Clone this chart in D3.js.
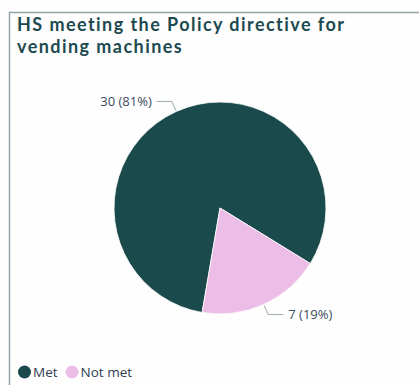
<!DOCTYPE html>
<html><head><meta charset="utf-8">
<script src="https://cdn.jsdelivr.net/npm/d3@7"></script>
<style>html,body{margin:0;padding:0;background:#fff;overflow:hidden}</style>
</head><body>
<svg id="chart" width="419" height="385"></svg>
<script>
const categories = ["Met", "Not met"];
const values = [30, 7];
const colors = ["#1a4a4b", "#ecbde7"];
const titleLines = ["HS meeting the Policy directive for", "vending machines"];

const svg = d3.select("#chart");
svg.append("rect").attr("x", 0).attr("y", 0).attr("width", 419).attr("height", 385).attr("fill", "#fefefe");
// frame
svg.append("path").attr("d", "M9.5,400 V12.5 H430").attr("fill", "none").attr("stroke", "#8fa5a7").attr("stroke-width", 1.5);

const font = "'Open Sans', 'Noto Sans', sans-serif";
const tfont = "Lato, 'Open Sans', sans-serif";
const tg = svg.append("g");
const tnodes = titleLines.map((t, i) => tg.append("text").attr("x", 17).attr("y", 31 + i * 22).text(t)
  .attr("font-family", tfont).attr("font-weight", 700)
  .attr("font-size", 18).attr("fill", "#1c4a50"));
// widen first line to the reference width with letter spacing
const w0 = tnodes[0].node().getComputedTextLength();
const ls = Math.max(0, Math.min(1.5, (329 - w0) / titleLines[0].length));
tnodes.forEach(t => t.attr("letter-spacing", ls));

const total = d3.sum(values);
const cx = 220, cy = 208, r = 106;
const start = 189.7 * Math.PI / 180;
const pie = d3.pie().sort(null).startAngle(start).endAngle(start + 2 * Math.PI);
const arcs = pie(values);
const arc = d3.arc().innerRadius(0).outerRadius(r);
const g = svg.append("g").attr("transform", `translate(${cx},${cy})`);
g.selectAll("path.slice").data(arcs).join("path").attr("class", "slice")
  .attr("d", arc).attr("fill", (d, i) => colors[i]).attr("stroke", "#fff").attr("stroke-width", 0.8);

// labels with connectors
arcs.forEach((d, i) => {
  const mid = (d.startAngle + d.endAngle) / 2;
  const sx = Math.sin(mid), sy = -Math.cos(mid);
  const p0 = [sx * (r + 1), sy * (r + 1)];
  const p1 = [sx * (r + 11), sy * (r + 11)];
  const right = sx > 0;
  const p2 = [p1[0] + (right ? 15 : -15), p1[1]];
  g.append("path").attr("d", d3.line()([p0, p1, p2])).attr("fill", "none")
    .attr("stroke", "#9aacae").attr("stroke-width", 1);
  const pct = Math.round(values[i] / total * 100);
  g.append("text").attr("x", p2[0] + (right ? 5 : -5)).attr("y", p2[1] + 4.5)
    .attr("text-anchor", right ? "start" : "end")
    .attr("font-family", font).attr("font-size", 13)
    .attr("fill", "#3b4a5e").text(`${values[i]} (${pct}%)`);
});

// legend
const lg = svg.append("g");
let lx = 18;
categories.forEach((c, i) => {
  lg.append("circle").attr("cx", lx + 6.5).attr("cy", 372).attr("r", 6.5).attr("fill", colors[i]);
  const t = lg.append("text").attr("x", lx + 15).attr("y", 377).text(c)
    .attr("font-family", font).attr("font-size", 13.5).attr("fill", "#2f3d52");
  lx += 15 + t.node().getComputedTextLength() + 8;
});
</script>
</body></html>
